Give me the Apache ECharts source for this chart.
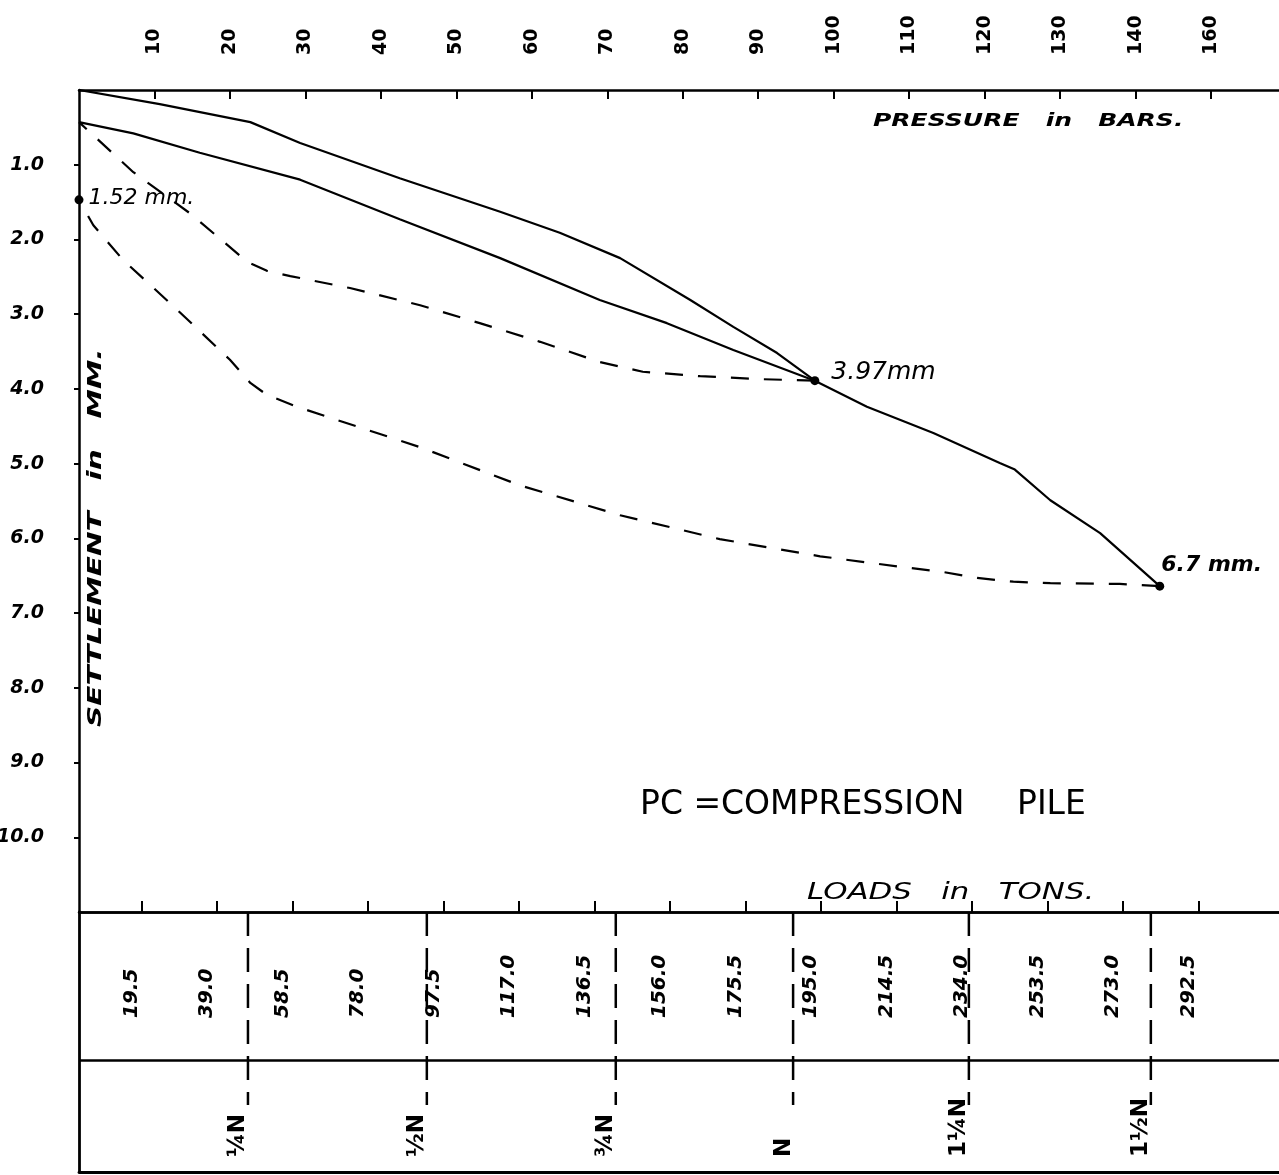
<!DOCTYPE html>
<html><head><meta charset="utf-8">
<script src="https://cdn.jsdelivr.net/npm/echarts@6/dist/echarts.min.js"></script>
<style>html,body{margin:0;padding:0;background:#fff;}#c{width:1279px;height:1175px;}</style>
</head><body><div id="c"></div>
<script>
// ---- data ----
const PRESSURE_TICKS = [10,20,30,40,50,60,70,80,90,100,110,120,130,140,150];
const PRESSURE_LABELS = ['10','20','30','40','50','60','70','80','90','100','110','120','130','140','160'];
const LOAD_TICKS = [19.5,39.0,58.5,78.0,97.5,117.0,136.5,156.0,175.5,195.0,214.5,234.0,253.5,273.0,292.5];
const LOAD_LABELS = ['19.5','39.0','58.5','78.0','97.5','117.0','136.5','156.0','175.5','195.0','214.5','234.0','253.5','273.0','292.5'];
const SETTLEMENT_TICKS = [1,2,3,4,5,6,7,8,9,10];
const SETTLEMENT_LABELS = ['1.0','2.0','3.0','4.0','5.0','6.0','7.0','8.0','9.0','10.0'];
const N_LINE_LOADS = [47.0, 93.2, 142.0, 187.8, 233.2, 280.2];
const N_LABELS = ['¼N','½N','¾N','N','1¼N','1½N'];
// [pressure (bars), settlement (mm)]
const LOADING_1 = [[0,0],[10.7,0.19],[22.7,0.43],[29.3,0.71],[42.5,1.18],[55.8,1.63],[63.7,1.91],[71.7,2.25],[81.0,2.81],[86.7,3.17],[92.5,3.52],[97.5,3.89]];
const LOADING_2 = [[0,0.43],[7.2,0.58],[16.0,0.84],[29.3,1.20],[42.5,1.73],[55.8,2.25],[69.0,2.81],[77.9,3.12],[86.7,3.48],[97.5,3.89],[104.4,4.24],[113.2,4.59],[122.0,4.99],[124.0,5.08],[128.7,5.49],[135.3,5.93],[143.2,6.64]];
const UNLOADING_1 = [[97.5,3.89],[90.6,3.87],[82.3,3.83],[74.7,3.77],[69.0,3.64],[61.1,3.37],[53.1,3.12],[45.2,2.88],[35.9,2.65],[28.0,2.49],[24.9,2.42],[22.3,2.30],[14.7,1.65],[7.2,1.10],[0,0.43]];
const UNLOADING_2 = [[143.2,6.64],[137.9,6.61],[128.7,6.60],[123.8,6.58],[119.0,6.53],[114.5,6.45],[108.8,6.38],[98.2,6.24],[84.9,6.01],[71.7,5.69],[58.4,5.29],[45.2,4.78],[28.9,4.24],[24.9,4.08],[22.7,3.92],[20.0,3.61],[13.0,2.94],[5.8,2.27],[1.9,1.81],[0,1.47]];
const MARKED_POINTS = [[97.5,3.89],[143.2,6.64],[0,1.47]];
const MARKED_TEXT = ['3.97mm','6.7 mm.','1.52 mm.'];

// ---- styling / layout ----
const FONT = '"DejaVu Sans", sans-serif';
const INK = '#000';
const MARK_LABEL_STYLE = [
  {offset:[7,-8], fontSize:25, fontWeight:'normal'},
  {offset:[-8,-21], fontSize:22, fontWeight:'bold'},
  {offset:[0,-2], fontSize:22, fontWeight:'normal'}
];
function lookup(ticks, labels, v){
  for (let i=0;i<ticks.length;i++){ if (Math.abs(ticks[i]-v) < 1e-6) return labels[i]; }
  return '';
}
const chart = echarts.init(document.getElementById('c'), null, {renderer:'canvas'});
const solid = {color:INK, width:2.2};
const dashed = {color:INK, width:2.2, type:[18,15]};
const option = {
  animation:false,
  backgroundColor:'#fff',
  textStyle:{fontFamily:FONT, color:INK},
  grid:[
    {left:79, top:90, width:1200, height:822, outerBoundsMode:'none', containLabel:false},
    {left:79, top:912, width:1200, height:260, outerBoundsMode:'none', containLabel:false}
  ],
  xAxis:[
    {type:'value', gridIndex:0, position:'top', min:0, max:159,
     axisLine:{show:true, onZero:false, lineStyle:{color:INK, width:2.5}},
     axisTick:{show:true, inside:true, length:9, customValues:PRESSURE_TICKS, lineStyle:{color:INK, width:2}},
     axisLabel:{show:true, customValues:PRESSURE_TICKS, rotate:-90, margin:35, align:'left', verticalAlign:'middle',
       fontSize:19, fontWeight:'bold', color:INK, fontFamily:FONT,
       formatter:v=>lookup(PRESSURE_TICKS, PRESSURE_LABELS, v)},
     splitLine:{show:false}},
    {type:'value', gridIndex:0, position:'bottom', min:3.36, max:313.3,
     axisLine:{show:true, onZero:false, lineStyle:{color:INK, width:2.5}},
     axisTick:{show:true, inside:true, length:11, customValues:LOAD_TICKS, lineStyle:{color:INK, width:2}},
     axisLabel:{show:true, customValues:LOAD_TICKS, rotate:90, margin:106, align:'left', verticalAlign:'bottom',
       fontSize:20, fontWeight:'bold', fontStyle:'italic', color:INK, fontFamily:FONT,
       formatter:v=>lookup(LOAD_TICKS, LOAD_LABELS, v)},
     splitLine:{show:false}},
    {type:'value', gridIndex:1, position:'bottom', min:3.36, max:313.3,
     axisLine:{show:true, onZero:false, lineStyle:{color:INK, width:2.8}},
     axisTick:{show:false}, axisLabel:{show:false}, splitLine:{show:false}}
  ],
  yAxis:[
    {type:'value', gridIndex:0, inverse:true, min:0, max:11,
     axisLine:{show:true, onZero:false, lineStyle:{color:INK, width:2.5}},
     axisTick:{show:true, length:5, customValues:SETTLEMENT_TICKS, lineStyle:{color:INK, width:2}},
     axisLabel:{show:true, customValues:SETTLEMENT_TICKS, margin:35, fontSize:19, fontWeight:'bold', fontStyle:'italic', color:INK, fontFamily:FONT,
       formatter:v=>lookup(SETTLEMENT_TICKS, SETTLEMENT_LABELS, v)},
     splitLine:{show:false}},
    {type:'value', gridIndex:1, inverse:true, min:0, max:260, interval:148,
     axisLine:{show:true, onZero:false, lineStyle:{color:INK, width:2.8}},
     axisTick:{show:false}, axisLabel:{show:false},
     splitLine:{show:true, lineStyle:{color:INK, width:2.5, type:'solid'}}}
  ],
  series:[
    {type:'line', name:'loading 1', xAxisIndex:0, yAxisIndex:0, data:LOADING_1, symbol:'none', lineStyle:solid, z:5},
    {type:'line', name:'unloading 1', xAxisIndex:0, yAxisIndex:0, data:UNLOADING_1, symbol:'none', lineStyle:dashed, z:5},
    {type:'line', name:'loading 2', xAxisIndex:0, yAxisIndex:0, data:LOADING_2, symbol:'none', lineStyle:solid, z:5},
    {type:'line', name:'unloading 2', xAxisIndex:0, yAxisIndex:0, data:UNLOADING_2, symbol:'none', lineStyle:dashed, z:5},
    {type:'scatter', name:'marked', xAxisIndex:0, yAxisIndex:0, symbol:'circle', symbolSize:9, clip:false,
     itemStyle:{color:INK, opacity:1}, z:6,
     data:MARKED_POINTS.map((p,i)=>({value:p, label:{show:true, position:'right', distance:5, formatter:MARKED_TEXT[i],
       offset:MARK_LABEL_STYLE[i].offset, fontSize:MARK_LABEL_STYLE[i].fontSize, fontWeight:MARK_LABEL_STYLE[i].fontWeight,
       fontStyle:'italic', color:INK, opacity:1, textBorderWidth:0, fontFamily:FONT}}))},
    {type:'custom', name:'N lines', xAxisIndex:2, yAxisIndex:1, clip:false, z:4,
     data:N_LINE_LOADS.map(v=>[v]),
     renderItem:function(params, api){
       const x = api.value(0);
       const p0 = api.coord([x, 0]);
       const p1 = api.coord([x, 193]);
       const pt = api.coord([x, 245]);
       return {type:'group', children:[
         {type:'line', shape:{x1:p0[0], y1:p0[1], x2:p1[0], y2:p1[1]},
          style:{stroke:INK, lineWidth:2.5, lineDash:[24,12]}},
         {type:'text', x:pt[0]+2, y:pt[1], rotation:Math.PI/2,
          style:{text:N_LABELS[params.dataIndex], fontSize:23, fontWeight:'bold', fontFamily:FONT, fill:INK, align:'left', verticalAlign:'bottom'}}
       ]};
     }}
  ],
  graphic:[
    {type:'text', x:873, y:121, scaleX:1.39, style:{text:'PRESSURE   in   BARS.', fontSize:18, fontWeight:'bold', fontStyle:'italic', fontFamily:FONT, fill:INK, align:'left', verticalAlign:'middle'}},
    {type:'text', x:807, y:893, scaleX:1.34, style:{text:'LOADS   in   TONS.', fontSize:23, fontStyle:'italic', fontFamily:FONT, fill:INK, align:'left', verticalAlign:'middle'}},
    {type:'text', x:640, y:805, style:{text:'PC =COMPRESSION     PILE', fontSize:33, fontFamily:FONT, fill:INK, align:'left', verticalAlign:'middle'}},
    {type:'text', x:96, y:727, rotation:Math.PI/2, scaleX:1.476, style:{text:'SETTLEMENT   in   MM.', fontSize:20, fontWeight:'bold', fontStyle:'italic', fontFamily:FONT, fill:INK, align:'left', verticalAlign:'middle'}}
  ]
};
chart.setOption(option);
</script></body></html>
